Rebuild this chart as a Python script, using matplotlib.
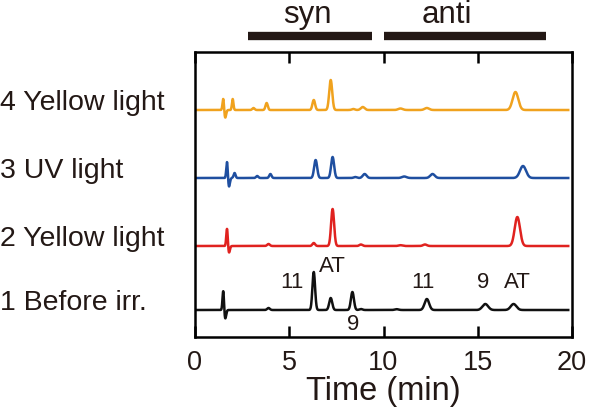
import numpy as np
import matplotlib
matplotlib.use("Agg")
import matplotlib.pyplot as plt

plt.rcParams['font.family'] = ['Liberation Sans', 'DejaVu Sans']

# peak tables: retention time (min), height, width (sigma, min)
black_t = [1.5, 1.6, 3.9, 6.3, 7.2, 8.35, 8.8, 10.7, 12.3, 15.4, 16.9]
black_h = [20, -9, 2, 38, 12, 18, 1, 0.8, 11, 6, 6]
black_w = [0.04, 0.05, 0.07, 0.07, 0.08, 0.08, 0.08, 0.1, 0.12, 0.15, 0.15]

red_t = [1.7, 1.8, 3.9, 6.3, 7.3, 8.8, 10.9, 12.2, 17.1]
red_h = [18, -7, 2, 3, 37, 1.5, 0.8, 1.5, 29]
red_w = [0.04, 0.05, 0.07, 0.07, 0.08, 0.08, 0.1, 0.1, 0.14]

blue_t = [1.7, 1.8, 2.1, 3.3, 4.0, 6.4, 7.3, 8.5, 9.0, 11.1, 12.6, 17.4]
blue_h = [17, -9, 5, 2, 4, 18, 21, 1, 4, 1.5, 4, 12]
blue_w = [0.04, 0.05, 0.05, 0.06, 0.06, 0.08, 0.08, 0.08, 0.1, 0.12, 0.12, 0.16]

yellow_t = [1.5, 1.6, 2.0, 3.1, 3.8, 6.3, 7.2, 8.4, 8.9, 10.9, 12.3, 17.0]
yellow_h = [12, -8, 11, 2, 7, 10, 30, 1, 3, 1.5, 2, 18]
yellow_w = [0.04, 0.05, 0.04, 0.06, 0.06, 0.07, 0.08, 0.08, 0.1, 0.12, 0.12, 0.15]

labels = ['1 Before irr.', '2 Yellow light', '3 UV light', '4 Yellow light']
offsets = [27, 91, 159, 227]
colors = ['#111111', '#e0221f', '#1f4fa0', '#f0a21e']

peak_labels = ['11', 'AT', '9', '11', '9', 'AT']
peak_label_x = [5.15, 7.3, 8.4, 12.1, 15.3, 17.1]
peak_label_y = [55, 70, 12, 55, 55, 55]


def trace(t, ts, hs, ws):
    y = np.zeros_like(t)
    for a, h, w in zip(ts, hs, ws):
        y += h * np.exp(-0.5 * ((t - a) / w) ** 2)
    return y


t = np.linspace(0.1, 19.8, 3000)
fig = plt.figure(figsize=(5.91, 4.13), dpi=100)
ax = fig.add_axes([195 / 591, 76 / 413, 377 / 591, 285 / 413])

data = [(black_t, black_h, black_w), (red_t, red_h, red_w),
        (blue_t, blue_h, blue_w), (yellow_t, yellow_h, yellow_w)]
for (ts, hs, ws), off, c, lab in zip(data, offsets, colors, labels):
    ax.plot(t, trace(t, ts, hs, ws) + off, color=c, lw=1.8)
    ax.annotate(lab, xy=(0.0, off + 7), xycoords=('figure fraction', 'data'),
                ha='left', va='center', fontsize=20.5, color='#231815')

for s, x, y in zip(peak_labels, peak_label_x, peak_label_y):
    ax.text(x, y, s, ha='center', va='center', fontsize=16, color='#231815')

# syn / anti bars
ax.plot([2.8, 9.4], [301, 301], color='#231815', lw=6, solid_capstyle='butt', clip_on=False)
ax.plot([10.0, 18.6], [301, 301], color='#231815', lw=6, solid_capstyle='butt', clip_on=False)
ax.text(5.95, 314, 'syn', ha='center', va='baseline', fontsize=22.5, color='#231815')
ax.text(13.35, 314, 'anti', ha='center', va='baseline', fontsize=22.5, color='#231815')

ax.set_xlim(0, 20)
ax.set_ylim(0, 285)
ax.set_xticks([0, 5, 10, 15, 20])
ax.set_yticks([])
ax.tick_params(axis='x', direction='in', top=True, length=8, width=1.8,
               labelsize=19.5, pad=9, labelcolor='#231815')
for sp in ax.spines.values():
    sp.set_linewidth(1.8)
ax.set_xlabel('Time (min)', fontsize=23.5, labelpad=0.5, color='#231815')

fig.savefig('out.png', dpi=100)
